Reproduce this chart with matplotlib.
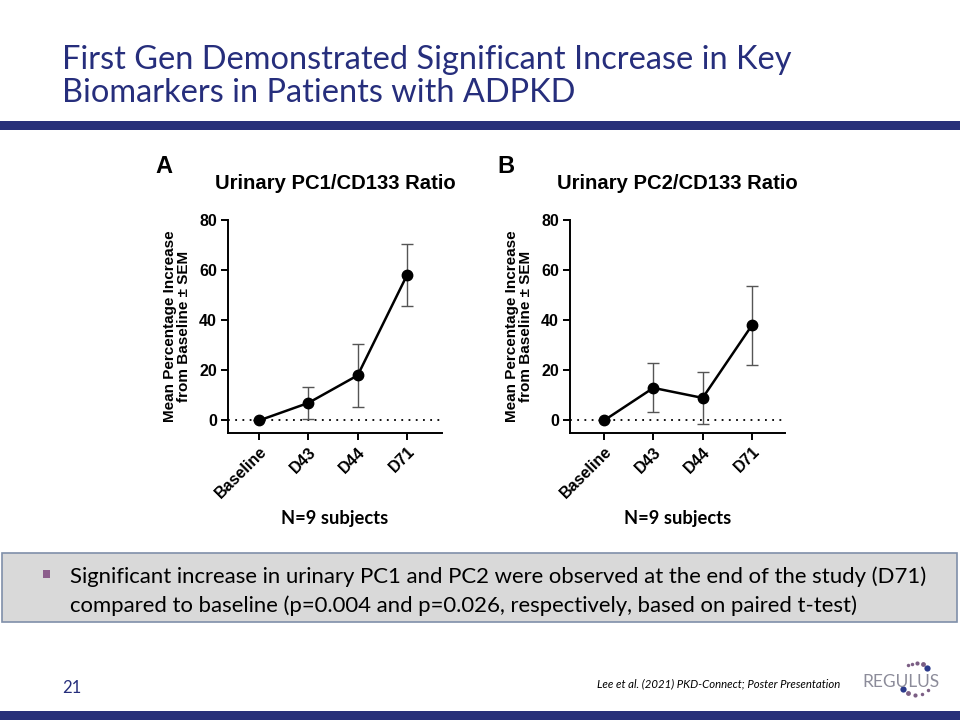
import numpy as np
import matplotlib
matplotlib.use("Agg")
import matplotlib.pyplot as plt
from matplotlib.patches import Rectangle

# data
timepoints = ["Baseline", "D43", "D44", "D71"]
pc1_mean = [0, 7, 18, 58]
pc1_sem = [0, 6.5, 12.5, 12.3]
pc2_mean = [0, 13, 9, 38]
pc2_sem = [0, 9.8, 10.5, 15.8]

NAVY = "#262E7C"
ARIAL = ["Liberation Sans", "DejaVu Sans"]
CALIBRI = ["Lato", "DejaVu Sans"]

fig = plt.figure(figsize=(9.6, 7.2), dpi=100)


def draw_panel(rect, means, sems, title, letter, xlim):
    ax = fig.add_axes(rect)
    x = np.arange(len(timepoints))
    ax.axhline(0, color="black", linestyle=(0, (1, 3)), linewidth=1.3, zorder=1)
    ax.errorbar(x, means, yerr=sems, fmt="none", ecolor="#555555",
                elinewidth=1.0, capsize=4, capthick=1.0, zorder=2)
    ax.plot(x, means, color="black", linewidth=1.8, marker="o",
            markersize=7.5, zorder=3)
    ax.set_xlim(*xlim)
    ax.set_ylim(-5, 80)
    ax.set_yticks([0, 20, 40, 60, 80])
    ax.set_xticks(x)
    ax.set_xticklabels(timepoints, rotation=45, ha="right",
                       rotation_mode="anchor", fontfamily=ARIAL,
                       fontweight="bold", fontsize=11.5)
    for lab in ax.get_yticklabels():
        lab.set_fontfamily(ARIAL)
        lab.set_fontweight("bold")
        lab.set_fontsize(11.5)
    ax.spines["top"].set_visible(False)
    ax.spines["right"].set_visible(False)
    ax.spines["left"].set_linewidth(1.4)
    ax.spines["bottom"].set_linewidth(1.4)
    ax.spines["left"].set_bounds(-5, 80)
    ax.tick_params(width=1.4, length=5, direction="out", pad=3)
    ax.set_ylabel("Mean Percentage Increase\nfrom Baseline \u00b1 SEM",
                  fontfamily=ARIAL, fontweight="bold", fontsize=11,
                  labelpad=6, linespacing=1.0)
    ax.set_xlabel("N=9 subjects", fontfamily=CALIBRI, fontweight="bold",
                  fontsize=13.2, labelpad=6)
    ax.set_title(title, fontfamily=ARIAL, fontweight="bold", fontsize=14.6,
                 pad=22)
    ax.text(-0.34, 1.25, letter, transform=ax.transAxes, fontfamily=ARIAL,
            fontweight="bold", fontsize=17, ha="left", va="center")
    return ax


draw_panel([228 / 960, 1 - 433 / 720, 214 / 960, 213 / 720],
           pc1_mean, pc1_sem, "Urinary PC1/CD133 Ratio", "A", (-0.63, 3.71))
draw_panel([570 / 960, 1 - 433 / 720, 215 / 960, 213 / 720],
           pc2_mean, pc2_sem, "Urinary PC2/CD133 Ratio", "B", (-0.69, 3.67))

# slide title and bars
fig.text(62 / 960, 1 - 60 / 720, "First Gen Demonstrated Significant Increase in Key",
         fontfamily=CALIBRI, fontsize=23.4, color=NAVY, va="center", ha="left")
fig.text(62 / 960, 1 - 93 / 720, "Biomarkers in Patients with ADPKD",
         fontfamily=CALIBRI, fontsize=23.4, color=NAVY, va="center", ha="left")
fig.add_artist(Rectangle((0, 1 - 130 / 720), 1, 9 / 720, transform=fig.transFigure,
                         facecolor="#283079", edgecolor="none"))
fig.add_artist(Rectangle((0, 0), 1, 9 / 720, transform=fig.transFigure,
                         facecolor="#283079", edgecolor="none"))

# grey summary box
fig.add_artist(Rectangle((0.002, 1 - 622 / 720), 0.995, 69 / 720,
                         transform=fig.transFigure, facecolor="#D9D9D9",
                         edgecolor="#7F8FA9", linewidth=1.2))
fig.add_artist(Rectangle((43 / 960, 1 - 578 / 720), 7 / 960, 8 / 720,
                         transform=fig.transFigure, facecolor="#8C5E8C",
                         edgecolor="none"))
fig.text(70 / 960, 1 - 577 / 720,
         "Significant increase in urinary PC1 and PC2 were observed at the end of the study (D71)",
         fontfamily=CALIBRI, fontsize=15.9, color="black", va="center", ha="left")
fig.text(70 / 960, 1 - 606 / 720,
         "compared to baseline (p=0.004 and p=0.026, respectively, based on paired t-test)",
         fontfamily=CALIBRI, fontsize=15.9, color="black", va="center", ha="left")

# footer
fig.text(62 / 960, 1 - 688 / 720, "21", fontfamily=CALIBRI, fontsize=12,
         color=NAVY, va="center", ha="left")
fig.text(840 / 960, 1 - 684 / 720, "Lee et al. (2021) PKD-Connect; Poster Presentation",
         fontfamily=CALIBRI, fontsize=8.2, style="italic", color="black",
         va="center", ha="right")
fig.text(901 / 960, 1 - 682 / 720, "REGULUS", fontfamily=CALIBRI, fontsize=12.5,
         color="#8C8C9A", va="center", ha="center")

# logo dots on an arc around "ULU"
up = np.radians([45, 65, 85, 105, 122])
low = np.radians([218, 240, 265, 292, 318])
cx, cy, r = 916 / 960, 1 - 679 / 720, 16
for angs, cols, sizes in [
    (up, ["#2B3A8C", "#7B5E84", "#7B5E84", "#7B5E84", "#7B5E84"], [4.5, 3.5, 3, 2.5, 2.5]),
    (low, ["#2B3A8C", "#7B5E84", "#7B5E84", "#7B5E84", "#7B5E84"], [4.5, 3.5, 3, 2.5, 2.5])]:
    for a, c, s in zip(angs, cols, sizes):
        fig.add_artist(plt.Line2D([cx + r * np.cos(a) / 960], [cy + r * np.sin(a) / 720],
                                  transform=fig.transFigure, linestyle="none",
                                  marker="o", markersize=s, color=c,
                                  markeredgewidth=0))

fig.savefig("out.png", dpi=100)
